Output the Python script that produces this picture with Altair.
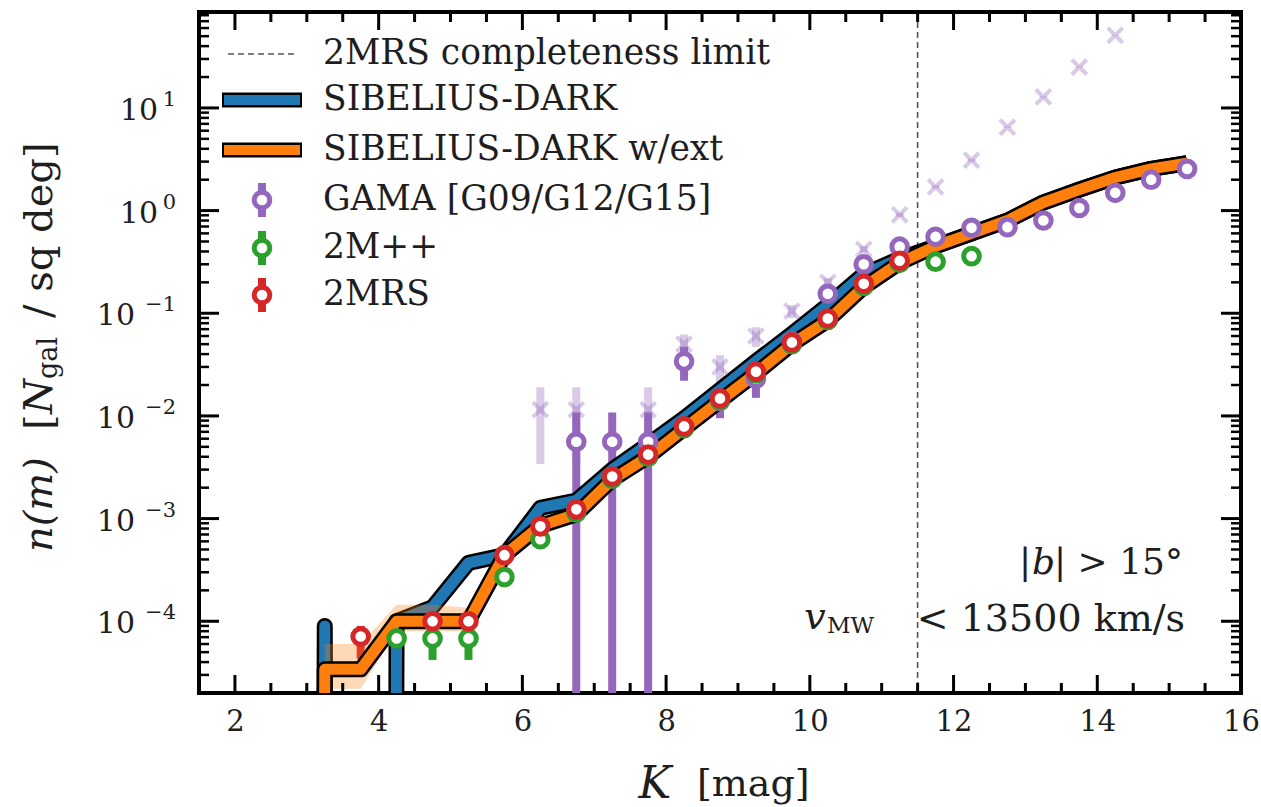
import math
import altair as alt
import pandas as pd

FONT = "DejaVu Serif"
INK = "#1e1e1e"
BLUE, ORANGE, GREEN, RED, PURPLE = "#1f77b4", "#ff7f0e", "#2ca02c", "#d62728", "#9467bd"

# ---------------- data ----------------
k_sim = [2.75, 3.25, 3.75, 4.25, 4.75, 5.25, 5.75, 6.25, 6.75, 7.25, 7.75, 8.25, 8.75,
         9.25, 9.75, 10.25, 10.75, 11.25, 11.75, 12.25, 12.75, 13.25, 13.75, 14.25, 14.75, 15.25]
n_sib = [0, 9.0e-5, 0, 1.0e-4, 1.37e-4, 3.7e-4, 4.4e-4, 1.27e-3, 1.5e-3, 3.0e-3, 5.3e-3, 9.5e-3, 1.8e-2,
         3.4e-2, 6.3e-2, 0.12, 0.24, 0.34, 0.45, 0.6, 0.8, 1.2, 1.6, 2.1, 2.55, 2.9]
n_ext = [0, 3.4e-5, 3.4e-5, 1.0e-4, 1.0e-4, 1.0e-4, 4.4e-4, 8.5e-4, 1.1e-3, 2.4e-3, 4.0e-3, 7.5e-3, 1.4e-2,
         2.6e-2, 5.0e-2, 8.5e-2, 0.18, 0.31, 0.45, 0.6, 0.8, 1.2, 1.6, 2.1, 2.55, 2.9]
n_ext_lo = [0, 2.2e-5, 2.2e-5, 8.0e-5, 8.0e-5, 8.0e-5, 3.9e-4, 7.8e-4, 1.0e-3, 2.25e-3, 3.8e-3, 7.2e-3, 1.35e-2,
            2.52e-2, 4.9e-2, 8.3e-2, 0.176, 0.305, 0.443, 0.59, 0.79, 1.19, 1.58, 2.08, 2.52, 2.87]
n_ext_hi = [0, 6.0e-5, 6.0e-5, 1.45e-4, 1.45e-4, 1.35e-4, 4.9e-4, 9.2e-4, 1.18e-3, 2.55e-3, 4.2e-3, 7.8e-3, 1.45e-2,
            2.68e-2, 5.1e-2, 8.7e-2, 0.184, 0.315, 0.457, 0.61, 0.81, 1.21, 1.62, 2.12, 2.58, 2.93]

k_2mrs = [3.75, 4.75, 5.25, 5.75, 6.25, 6.75, 7.25, 7.75, 8.25, 8.75, 9.25, 9.75, 10.25, 10.75, 11.25]
n_2mrs = [7.1e-5, 1.0e-4, 1.0e-4, 4.4e-4, 8.4e-4, 1.23e-3, 2.57e-3, 4.2e-3, 7.9e-3, 1.48e-2, 2.7e-2,
          5.2e-2, 8.9e-2, 0.194, 0.325]
lo_2mrs = [4.3e-5, 7.5e-5, 7.5e-5, 3.9e-4, 7.8e-4, 1.15e-3, 2.45e-3, 4.05e-3, 7.7e-3, 1.45e-2, 2.65e-2,
           5.15e-2, 8.8e-2, 0.192, 0.322]
hi_2mrs = [9.0e-5, 1.25e-4, 1.25e-4, 4.9e-4, 9.0e-4, 1.31e-3, 2.69e-3, 4.35e-3, 8.1e-3, 1.51e-2, 2.75e-2,
           5.25e-2, 9.0e-2, 0.196, 0.328]

k_2mpp = [4.25, 4.75, 5.25, 5.75, 6.25, 6.75, 7.25, 7.75, 8.25, 8.75, 9.25, 9.75, 10.25, 10.75, 11.25, 11.75, 12.25]
n_2mpp = [6.8e-5, 6.8e-5, 6.8e-5, 2.7e-4, 6.3e-4, 1.15e-3, 2.45e-3, 4.0e-3, 7.6e-3, 1.42e-2, 2.6e-2,
          5.0e-2, 8.6e-2, 0.185, 0.31, 0.318, 0.36]
lo_2mpp = [4.2e-5, 4.2e-5, 4.2e-5, 2.3e-4, 5.6e-4, 1.07e-3, 2.33e-3, 3.85e-3, 7.4e-3, 1.39e-2, 2.56e-2,
           4.95e-2, 8.5e-2, 0.183, 0.307, 0.314, 0.355]
hi_2mpp = [9.2e-5, 9.2e-5, 9.2e-5, 3.1e-4, 7.0e-4, 1.23e-3, 2.57e-3, 4.15e-3, 7.8e-3, 1.45e-2, 2.64e-2,
           5.05e-2, 8.7e-2, 0.187, 0.313, 0.322, 0.365]

k_gama = [6.75, 7.25, 7.75, 8.25, 8.75, 9.25, 9.75, 10.25, 10.75, 11.25, 11.75, 12.25, 12.75, 13.25,
          13.75, 14.25, 14.75, 15.25]
n_gama = [5.6e-3, 5.6e-3, 5.6e-3, 3.4e-2, 1.4e-2, 2.3e-2, 5.3e-2, 0.155, 0.30, 0.445, 0.556, 0.68, 0.69,
          0.80, 1.06, 1.49, 2.0, 2.55]
lo_gama = [0, 0, 0, 2.2e-2, 9.5e-3, 1.5e-2, 4.5e-2, 0.14, 0.28, 0.425, 0.54, 0.665, 0.675, 0.785,
           1.045, 1.475, 1.985, 2.53]
hi_gama = [1.08e-2, 1.08e-2, 1.08e-2, 4.7e-2, 2.0e-2, 3.0e-2, 6.2e-2, 0.17, 0.32, 0.465, 0.572, 0.695,
           0.705, 0.815, 1.075, 1.505, 2.015, 2.57]

k_raw = [6.25, 6.75, 7.75, 8.25, 8.75, 9.25, 9.75, 10.25, 10.75, 11.25, 11.75, 12.25, 12.75, 13.25, 13.75, 14.25]
n_raw = [1.15e-2, 1.15e-2, 1.15e-2, 5.0e-2, 3.0e-2, 6.0e-2, 0.105, 0.2, 0.42, 0.91, 1.7, 3.1, 6.5, 12.8, 25, 51]
lo_raw = [3.4e-3, 3.4e-3, 3.4e-3, 3.8e-2, 2.1e-2, 4.7e-2, 9.0e-2, 0.18, 0.39, 0.87, 1.65, 3.0, 6.4, 12.6, 24.7, 50.5]
hi_raw = [1.9e-2, 1.9e-2, 1.9e-2, 6.2e-2, 3.9e-2, 7.3e-2, 0.12, 0.22, 0.45, 0.95, 1.75, 3.2, 6.6, 13.0, 25.3, 51.5]

K_LIMIT = 11.5
X_MAJOR = [2, 4, 6, 8, 10, 12, 14, 16]
Y_MAJOR = [1e-4, 1e-3, 1e-2, 1e-1, 1e0, 1e1]

# zero counts are drawn like matplotlib's log clipping (far below the axis, then clipped)
FLOOR = 1e-100


def fl(a):
    return [v if v > 0 else FLOOR for v in a]


W, H = 1042, 681
xs = alt.Scale(domain=[1.5, 16], nice=False, zero=False)
ys = alt.Scale(type="log", domain=[2e-5, 86], nice=False)

AX = alt.Axis(values=X_MAJOR, ticks=False, tickSize=0, domain=False, grid=False,
              labelFont=FONT, labelFontSize=29, labelColor=INK, labelPadding=14,
              labelFlush=False, labelOverlap=False, title=None, format="d")
AY = alt.Axis(values=Y_MAJOR, ticks=False, tickSize=0, domain=False, grid=False,
              labels=False, title=None)


def X(f):
    return alt.X(f + ":Q", scale=xs, axis=AX)


def Y(f):
    return alt.Y(f + ":Q", scale=ys, axis=AY)


def Y2(f):
    return alt.Y2(f + ":Q")


sim = pd.DataFrame({"k": k_sim, "sib": fl(n_sib), "ext": fl(n_ext), "lo": fl(n_ext_lo), "hi": fl(n_ext_hi)})
d2mrs = pd.DataFrame({"k": k_2mrs, "n": n_2mrs, "lo": fl(lo_2mrs), "hi": hi_2mrs})
d2mpp = pd.DataFrame({"k": k_2mpp, "n": n_2mpp, "lo": fl(lo_2mpp), "hi": hi_2mpp})
dgama = pd.DataFrame({"k": k_gama, "n": n_gama, "lo": fl(lo_gama), "hi": hi_gama})
draw = pd.DataFrame({"k": k_raw, "n": n_raw, "lo": fl(lo_raw), "hi": hi_raw})

layers = []

# completeness limit
layers.append(
    alt.Chart(pd.DataFrame({"k": [K_LIMIT]})).mark_rule(color="#555555", strokeWidth=1.6, strokeDash=[6, 4]).encode(
        x=X("k"), y=alt.value(0), y2=alt.value(H))
)

# error bars
for df, col, op in [(draw, PURPLE, 0.35), (dgama, PURPLE, 1.0), (d2mpp, GREEN, 1.0), (d2mrs, RED, 1.0)]:
    layers.append(alt.Chart(df).mark_rule(color=col, strokeWidth=8, opacity=op, clip=True).encode(
        x=X("k"), y=Y("lo"), y2=Y2("hi")))

# SIBELIUS-DARK
layers.append(alt.Chart(sim).mark_line(color="black", strokeWidth=16, strokeJoin="round", clip=True).encode(x=X("k"), y=Y("sib")))
layers.append(alt.Chart(sim).mark_line(color=BLUE, strokeWidth=11, strokeJoin="round", clip=True).encode(x=X("k"), y=Y("sib")))
# SIBELIUS-DARK w/ext
layers.append(alt.Chart(sim).mark_area(color=ORANGE, opacity=0.3, clip=True).encode(x=X("k"), y=Y("lo"), y2=Y2("hi")))
layers.append(alt.Chart(sim).mark_line(color="black", strokeWidth=16, strokeJoin="round", clip=True).encode(x=X("k"), y=Y("ext")))
layers.append(alt.Chart(sim).mark_line(color=ORANGE, strokeWidth=11, strokeJoin="round", clip=True).encode(x=X("k"), y=Y("ext")))

# markers
layers.append(alt.Chart(draw).mark_point(shape="M-1,-1L1,1M-1,1L1,-1", size=220, strokeWidth=4, color=PURPLE,
                                         opacity=0.35, filled=False, clip=True).encode(x=X("k"), y=Y("n")))
for df, col in [(dgama, PURPLE), (d2mpp, GREEN), (d2mrs, RED)]:
    layers.append(alt.Chart(df).mark_point(shape="circle", size=245, filled=True, fill="white", stroke=col,
                                           strokeWidth=5, opacity=1, clip=True).encode(x=X("k"), y=Y("n")))

# inward ticks
x_minor = [v / 2 for v in range(4, 32) if v % 4 != 0]
y_minor = [m * 10.0 ** e for e in range(-5, 2) for m in range(2, 10) if 2e-5 <= m * 10.0 ** e <= 86]
x_major_in = [v for v in X_MAJOR if v < 16]
for vals, ln in [(x_major_in, 18), (x_minor, 10)]:
    d = pd.DataFrame({"v": vals})
    layers.append(alt.Chart(d).mark_rule(color="black", strokeWidth=3).encode(x=X("v"), y=alt.value(H), y2=alt.value(H - ln)))
    layers.append(alt.Chart(d).mark_rule(color="black", strokeWidth=3).encode(x=X("v"), y=alt.value(0), y2=alt.value(ln)))
for vals, ln, sw in [(Y_MAJOR, 20, 3), (y_minor, 10, 2.5)]:
    d = pd.DataFrame({"v": vals})
    layers.append(alt.Chart(d).mark_rule(color="black", strokeWidth=sw).encode(y=Y("v"), x=alt.value(0), x2=alt.value(ln)))
    layers.append(alt.Chart(d).mark_rule(color="black", strokeWidth=sw).encode(y=Y("v"), x=alt.value(W), x2=alt.value(W - ln)))

# y tick labels "10" with raised exponent
ylab = pd.DataFrame({"v": Y_MAJOR})
ylab["e"] = [int(round(math.log10(v))) for v in Y_MAJOR]
ylab["exp"] = [("\u2212" if e < 0 else "") + str(abs(e)) for e in ylab["e"]]
ylab["base"] = "10"
for neg, base_x in [(True, -64), (False, -41)]:
    sub = ylab[(ylab["e"] < 0) == neg]
    layers.append(alt.Chart(sub).mark_text(font=FONT, fontSize=30, align="right", baseline="middle", color=INK, dy=3)
                  .encode(y=Y("v"), x=alt.value(base_x), text="base:N"))
    layers.append(alt.Chart(sub).mark_text(font=FONT, fontSize=21, align="right", baseline="middle", color=INK, dy=-8)
                  .encode(y=Y("v"), x=alt.value(-23), text="exp:N"))

one = pd.DataFrame({"o": [0]})


def txt(s, x, y, size, align="left", style=None, angle=None, baseline="middle"):
    kw = dict(text=s, font=FONT, fontSize=size, align=align, baseline=baseline, color=INK)
    if style:
        kw["fontStyle"] = style
    if angle is not None:
        kw["angle"] = angle
    return alt.Chart(one).mark_text(**kw).encode(x=alt.value(x), y=alt.value(y))


def rule(x1, x2, y1, y2, col, w, **kw):
    return alt.Chart(one).mark_rule(color=col, strokeWidth=w, **kw).encode(
        x=alt.value(x1), x2=alt.value(x2), y=alt.value(y1), y2=alt.value(y2))


def dot(x, y, col):
    return alt.Chart(one).mark_point(shape="circle", size=245, filled=True, fill="white", stroke=col,
                                     strokeWidth=5, opacity=1).encode(x=alt.value(x), y=alt.value(y))


# legend
legend_labels = ["2MRS completeness limit", "SIBELIUS-DARK", "SIBELIUS-DARK w/ext",
                 "GAMA [G09/G12/G15]", "2M++", "2MRS"]
legend_rows = [42, 88, 138, 188, 236, 283]
layers.append(rule(29, 97, legend_rows[0], legend_rows[0], "#555555", 1.6, strokeDash=[6, 4]))
for r, c in [(legend_rows[1], BLUE), (legend_rows[2], ORANGE)]:
    layers.append(rule(23, 103, r, r, "black", 15))
    layers.append(rule(25, 101, r, r, c, 10))
for r, c in [(legend_rows[3], PURPLE), (legend_rows[4], GREEN), (legend_rows[5], RED)]:
    layers.append(rule(63, 63, r - 17, r + 17, c, 8))
    layers.append(dot(63, r, c))
for lab, r in zip(legend_labels, legend_rows):
    layers.append(txt(lab, 124, r, 34.5))

# annotations
layers.append(txt("|", 820, 551, 36))
layers.append(txt("b", 833, 551, 36, style="italic"))
layers.append(txt("| > 15\u00b0", 984, 551, 36, align="right"))
layers.append(txt("< 13500 km/s", 986, 608, 38, align="right"))
layers.append(txt("v", 616, 606, 38, align="center", style="italic"))
layers.append(txt("MW", 628, 614, 23))

# axis titles
layers.append(txt("K", 456, 773, 44, align="center", style="italic"))
layers.append(txt("[mag]", 498, 773, 38))
layers.append(txt("n(m)", -159, 540, 40, angle=270, style="italic"))
layers.append(txt("[", -159, 418, 40, angle=270))
layers.append(txt("N", -159, 402, 40, angle=270, style="italic"))
layers.append(txt("gal", -150, 367, 27, angle=270))
layers.append(txt("/ sq deg]", -159, 306, 40, angle=270))

chart = alt.layer(*layers).properties(
    width=W, height=H,
    autosize=alt.AutoSizeParams(type="none"),
    padding={"left": 199, "top": 12, "right": 20, "bottom": 114},
    background="white",
).configure_view(stroke="black", strokeWidth=4)

chart.save("out.html", embed_options={"renderer": "svg", "actions": False})
